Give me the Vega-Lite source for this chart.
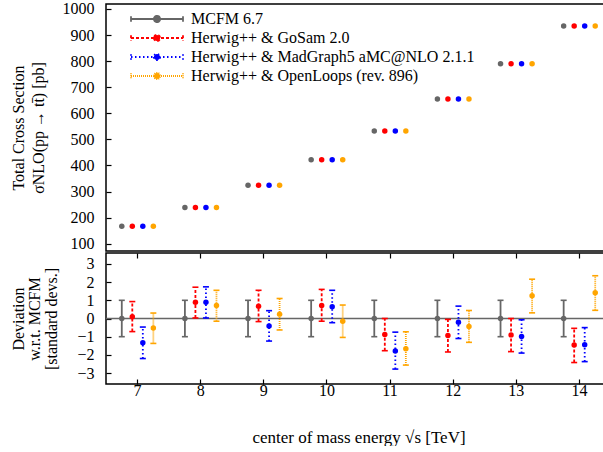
{
  "$schema": "https://vega.github.io/schema/vega-lite/v6.json",
  "padding": {"left": 9, "top": 0, "right": 0, "bottom": 0},
  "spacing": -4,
  "config": {
    "font": "Liberation Serif",
    "view": {"stroke": "black", "strokeWidth": 1.5},
    "axis": {"grid": false, "domain": false, "labelFont": "Liberation Serif", "labelFontSize": 16, "labelColor": "black", "titleFont": "Liberation Serif", "titleFontSize": 16, "titleFontWeight": "normal", "titleColor": "black", "tickColor": "black", "tickWidth": 1.2, "tickSize": -5},
    "legend": {"orient": "none", "legendX": 24, "legendY": 7, "symbolType": "M-1,-0.11V0.11M-1,0H1M1,-0.11V0.11M-0.12,0A0.12,0.12,0,1,0,0.12,0A0.12,0.12,0,1,0,-0.12,0Z", "symbolSize": 2704, "symbolStrokeWidth": 1.8, "clipHeight": 16, "rowPadding": 3, "labelOffset": 7, "labelFont": "Liberation Serif", "labelFontSize": 16, "labelColor": "black", "padding": 0, "labelLimit": 400}
  },
  "datasets": {
    "xs": [
      {"energy": 7, "series": "MCFM 6.7", "sigma": 167}, {"energy": 7, "series": "Herwig++ & GoSam 2.0", "sigma": 167}, {"energy": 7, "series": "Herwig++ & MadGraph5 aMC@NLO 2.1.1", "sigma": 167}, {"energy": 7, "series": "Herwig++ & OpenLoops (rev. 896)", "sigma": 167},
      {"energy": 8, "series": "MCFM 6.7", "sigma": 239}, {"energy": 8, "series": "Herwig++ & GoSam 2.0", "sigma": 239}, {"energy": 8, "series": "Herwig++ & MadGraph5 aMC@NLO 2.1.1", "sigma": 239}, {"energy": 8, "series": "Herwig++ & OpenLoops (rev. 896)", "sigma": 239},
      {"energy": 9, "series": "MCFM 6.7", "sigma": 324}, {"energy": 9, "series": "Herwig++ & GoSam 2.0", "sigma": 324}, {"energy": 9, "series": "Herwig++ & MadGraph5 aMC@NLO 2.1.1", "sigma": 324}, {"energy": 9, "series": "Herwig++ & OpenLoops (rev. 896)", "sigma": 324},
      {"energy": 10, "series": "MCFM 6.7", "sigma": 422}, {"energy": 10, "series": "Herwig++ & GoSam 2.0", "sigma": 422}, {"energy": 10, "series": "Herwig++ & MadGraph5 aMC@NLO 2.1.1", "sigma": 422}, {"energy": 10, "series": "Herwig++ & OpenLoops (rev. 896)", "sigma": 422},
      {"energy": 11, "series": "MCFM 6.7", "sigma": 532}, {"energy": 11, "series": "Herwig++ & GoSam 2.0", "sigma": 532}, {"energy": 11, "series": "Herwig++ & MadGraph5 aMC@NLO 2.1.1", "sigma": 532}, {"energy": 11, "series": "Herwig++ & OpenLoops (rev. 896)", "sigma": 532},
      {"energy": 12, "series": "MCFM 6.7", "sigma": 655}, {"energy": 12, "series": "Herwig++ & GoSam 2.0", "sigma": 655}, {"energy": 12, "series": "Herwig++ & MadGraph5 aMC@NLO 2.1.1", "sigma": 655}, {"energy": 12, "series": "Herwig++ & OpenLoops (rev. 896)", "sigma": 655},
      {"energy": 13, "series": "MCFM 6.7", "sigma": 790}, {"energy": 13, "series": "Herwig++ & GoSam 2.0", "sigma": 790}, {"energy": 13, "series": "Herwig++ & MadGraph5 aMC@NLO 2.1.1", "sigma": 790}, {"energy": 13, "series": "Herwig++ & OpenLoops (rev. 896)", "sigma": 790},
      {"energy": 14, "series": "MCFM 6.7", "sigma": 935}, {"energy": 14, "series": "Herwig++ & GoSam 2.0", "sigma": 935}, {"energy": 14, "series": "Herwig++ & MadGraph5 aMC@NLO 2.1.1", "sigma": 935}, {"energy": 14, "series": "Herwig++ & OpenLoops (rev. 896)", "sigma": 935}
    ],
    "dev": [
      {"energy": 7, "series": "MCFM 6.7", "dev": 0, "lo": -1, "hi": 1},
      {"energy": 7, "series": "Herwig++ & GoSam 2.0", "dev": 0.1, "lo": -0.72, "hi": 0.93},
      {"energy": 7, "series": "Herwig++ & MadGraph5 aMC@NLO 2.1.1", "dev": -1.33, "lo": -2.2, "hi": -0.47},
      {"energy": 7, "series": "Herwig++ & OpenLoops (rev. 896)", "dev": -0.52, "lo": -1.37, "hi": 0.3},
      {"energy": 8, "series": "MCFM 6.7", "dev": 0, "lo": -1, "hi": 1},
      {"energy": 8, "series": "Herwig++ & GoSam 2.0", "dev": 0.89, "lo": 0.03, "hi": 1.72},
      {"energy": 8, "series": "Herwig++ & MadGraph5 aMC@NLO 2.1.1", "dev": 0.89, "lo": 0.03, "hi": 1.74},
      {"energy": 8, "series": "Herwig++ & OpenLoops (rev. 896)", "dev": 0.72, "lo": -0.15, "hi": 1.55},
      {"energy": 9, "series": "MCFM 6.7", "dev": 0, "lo": -1, "hi": 1},
      {"energy": 9, "series": "Herwig++ & GoSam 2.0", "dev": 0.67, "lo": -0.17, "hi": 1.55},
      {"energy": 9, "series": "Herwig++ & MadGraph5 aMC@NLO 2.1.1", "dev": -0.41, "lo": -1.24, "hi": 0.43},
      {"energy": 9, "series": "Herwig++ & OpenLoops (rev. 896)", "dev": 0.24, "lo": -0.63, "hi": 1.1},
      {"energy": 10, "series": "MCFM 6.7", "dev": 0, "lo": -1, "hi": 1},
      {"energy": 10, "series": "Herwig++ & GoSam 2.0", "dev": 0.72, "lo": -0.15, "hi": 1.6},
      {"energy": 10, "series": "Herwig++ & MadGraph5 aMC@NLO 2.1.1", "dev": 0.65, "lo": -0.23, "hi": 1.55},
      {"energy": 10, "series": "Herwig++ & OpenLoops (rev. 896)", "dev": -0.15, "lo": -1.04, "hi": 0.74},
      {"energy": 11, "series": "MCFM 6.7", "dev": 0, "lo": -1, "hi": 1},
      {"energy": 11, "series": "Herwig++ & GoSam 2.0", "dev": -0.88, "lo": -1.77, "hi": 0},
      {"energy": 11, "series": "Herwig++ & MadGraph5 aMC@NLO 2.1.1", "dev": -1.79, "lo": -2.78, "hi": -0.75},
      {"energy": 11, "series": "Herwig++ & OpenLoops (rev. 896)", "dev": -1.66, "lo": -2.56, "hi": -0.73},
      {"energy": 12, "series": "MCFM 6.7", "dev": 0, "lo": -1, "hi": 1},
      {"energy": 12, "series": "Herwig++ & GoSam 2.0", "dev": -0.94, "lo": -1.84, "hi": -0.05},
      {"energy": 12, "series": "Herwig++ & MadGraph5 aMC@NLO 2.1.1", "dev": -0.2, "lo": -1.1, "hi": 0.68},
      {"energy": 12, "series": "Herwig++ & OpenLoops (rev. 896)", "dev": -0.44, "lo": -1.31, "hi": 0.44},
      {"energy": 13, "series": "MCFM 6.7", "dev": 0, "lo": -1, "hi": 1},
      {"energy": 13, "series": "Herwig++ & GoSam 2.0", "dev": -0.9, "lo": -1.82, "hi": 0},
      {"energy": 13, "series": "Herwig++ & MadGraph5 aMC@NLO 2.1.1", "dev": -0.99, "lo": -1.9, "hi": -0.07},
      {"energy": 13, "series": "Herwig++ & OpenLoops (rev. 896)", "dev": 1.25, "lo": 0.31, "hi": 2.16},
      {"energy": 14, "series": "MCFM 6.7", "dev": 0, "lo": -1, "hi": 1},
      {"energy": 14, "series": "Herwig++ & GoSam 2.0", "dev": -1.45, "lo": -2.42, "hi": -0.54},
      {"energy": 14, "series": "Herwig++ & MadGraph5 aMC@NLO 2.1.1", "dev": -1.44, "lo": -2.37, "hi": -0.5},
      {"energy": 14, "series": "Herwig++ & OpenLoops (rev. 896)", "dev": 1.41, "lo": 0.45, "hi": 2.35}
    ]
  },
  "vconcat": [
    {
      "width": 499,
      "height": 247,
      "data": {"name": "xs"},
      "mark": {"type": "point", "filled": true, "size": 30, "opacity": 1, "strokeWidth": 0},
      "encoding": {
        "x": {"field": "energy", "type": "ordinal", "scale": {"type": "band", "paddingInner": 0, "paddingOuter": 0, "range": [0, 505]}, "axis": null},
        "xOffset": {"field": "series", "type": "nominal", "scale": {"domain": ["MCFM 6.7", "Herwig++ & GoSam 2.0", "Herwig++ & MadGraph5 aMC@NLO 2.1.1", "Herwig++ & OpenLoops (rev. 896)"], "paddingInner": 0, "paddingOuter": 1.33}},
        "y": {"field": "sigma", "type": "quantitative", "scale": {"domain": [72, 1019], "nice": false, "zero": false}, "axis": {"values": [100, 200, 300, 400, 500, 600, 700, 800, 900, 1000], "format": "d", "labelPadding": 17, "title": ["Total Cross Section", "σNLO(pp → tt̄) [pb]"], "titleX": -96, "titleBaseline": "top", "titleLineHeight": 20}},
        "color": {"field": "series", "type": "nominal", "title": null, "scale": {"domain": ["MCFM 6.7", "Herwig++ & GoSam 2.0", "Herwig++ & MadGraph5 aMC@NLO 2.1.1", "Herwig++ & OpenLoops (rev. 896)"], "range": ["#666666", "#ff0000", "#0000ff", "#ffa500"]}, "legend": {"title": null, "encode": {"symbols": {"update": {"fill": {"scale": "color", "field": "value"}, "stroke": {"scale": "color", "field": "value"}, "opacity": {"value": 1}}}}}},
        "strokeDash": {"field": "series", "type": "nominal", "title": null, "scale": {"domain": ["MCFM 6.7", "Herwig++ & GoSam 2.0", "Herwig++ & MadGraph5 aMC@NLO 2.1.1", "Herwig++ & OpenLoops (rev. 896)"], "range": [[1, 0], [3, 2], [1.5, 2.5], [1, 1]]}}
      }
    },
    {
      "width": 499,
      "height": 131,
      "data": {"name": "dev"},
      "layer": [
        {
          "data": {"values": [{"ref": 0}]},
          "mark": {"type": "rule", "color": "#666666", "strokeWidth": 1.5},
          "encoding": {"y": {"field": "ref", "type": "quantitative", "scale": {"domain": [-3.6, 3.6], "nice": false}, "axis": null}}
        },
        {
          "mark": {"type": "rule", "strokeWidth": 1.8},
          "encoding": {
            "x": {"field": "energy", "type": "ordinal", "scale": {"type": "band", "paddingInner": 0, "paddingOuter": 0, "range": [0, 505]}, "axis": {"labelAngle": 0, "labelPadding": 3, "title": "center of mass energy √s [TeV]", "titleFontSize": 17, "titleY": 45, "titleBaseline": "top"}},
            "xOffset": {"field": "series", "type": "nominal", "scale": {"domain": ["MCFM 6.7", "Herwig++ & GoSam 2.0", "Herwig++ & MadGraph5 aMC@NLO 2.1.1", "Herwig++ & OpenLoops (rev. 896)"], "paddingInner": 0, "paddingOuter": 1.33}},
            "y": {"field": "lo", "type": "quantitative", "scale": {"domain": [-3.6, 3.6], "nice": false}, "axis": {"values": [-3, -2, -1, 0, 1, 2, 3], "labelPadding": 17, "title": ["Deviation", "w.r.t. MCFM", "[standard devs.]"], "titleX": -96, "titleBaseline": "top", "titleLineHeight": 16.5}},
            "y2": {"field": "hi"},
            "color": {"field": "series", "type": "nominal", "scale": {"domain": ["MCFM 6.7", "Herwig++ & GoSam 2.0", "Herwig++ & MadGraph5 aMC@NLO 2.1.1", "Herwig++ & OpenLoops (rev. 896)"], "range": ["#666666", "#ff0000", "#0000ff", "#ffa500"]}},
            "strokeDash": {"field": "series", "type": "nominal", "scale": {"domain": ["MCFM 6.7", "Herwig++ & GoSam 2.0", "Herwig++ & MadGraph5 aMC@NLO 2.1.1", "Herwig++ & OpenLoops (rev. 896)"], "range": [[1, 0], [3, 2], [1.5, 2.5], [1, 1]]}}
          }
        },
        {
          "mark": {"type": "tick", "thickness": 1.6, "size": 6, "opacity": 1},
          "encoding": {
            "x": {"field": "energy", "type": "ordinal", "scale": {"type": "band", "paddingInner": 0, "paddingOuter": 0, "range": [0, 505]}, "axis": {"orient": "top", "labels": false, "title": null, "minExtent": 0, "maxExtent": 0}},
            "xOffset": {"field": "series", "type": "nominal", "scale": {"domain": ["MCFM 6.7", "Herwig++ & GoSam 2.0", "Herwig++ & MadGraph5 aMC@NLO 2.1.1", "Herwig++ & OpenLoops (rev. 896)"], "paddingInner": 0, "paddingOuter": 1.33}},
            "y": {"field": "lo", "type": "quantitative", "scale": {"domain": [-3.6, 3.6], "nice": false}, "axis": null},
            "color": {"field": "series", "type": "nominal"}
          }
        },
        {
          "mark": {"type": "tick", "thickness": 1.6, "size": 6, "opacity": 1},
          "encoding": {
            "x": {"field": "energy", "type": "ordinal", "scale": {"type": "band", "paddingInner": 0, "paddingOuter": 0, "range": [0, 505]}, "axis": null},
            "xOffset": {"field": "series", "type": "nominal", "scale": {"domain": ["MCFM 6.7", "Herwig++ & GoSam 2.0", "Herwig++ & MadGraph5 aMC@NLO 2.1.1", "Herwig++ & OpenLoops (rev. 896)"], "paddingInner": 0, "paddingOuter": 1.33}},
            "y": {"field": "hi", "type": "quantitative", "scale": {"domain": [-3.6, 3.6], "nice": false}, "axis": null},
            "color": {"field": "series", "type": "nominal"}
          }
        },
        {
          "mark": {"type": "point", "filled": true, "size": 30, "opacity": 1, "strokeWidth": 0},
          "encoding": {
            "x": {"field": "energy", "type": "ordinal", "scale": {"type": "band", "paddingInner": 0, "paddingOuter": 0, "range": [0, 505]}, "axis": null},
            "xOffset": {"field": "series", "type": "nominal", "scale": {"domain": ["MCFM 6.7", "Herwig++ & GoSam 2.0", "Herwig++ & MadGraph5 aMC@NLO 2.1.1", "Herwig++ & OpenLoops (rev. 896)"], "paddingInner": 0, "paddingOuter": 1.33}},
            "y": {"field": "dev", "type": "quantitative", "scale": {"domain": [-3.6, 3.6], "nice": false}, "axis": null},
            "color": {"field": "series", "type": "nominal"}
          }
        }
      ],
      "resolve": {"axis": {"x": "independent", "y": "independent"}}
    }
  ]
}
